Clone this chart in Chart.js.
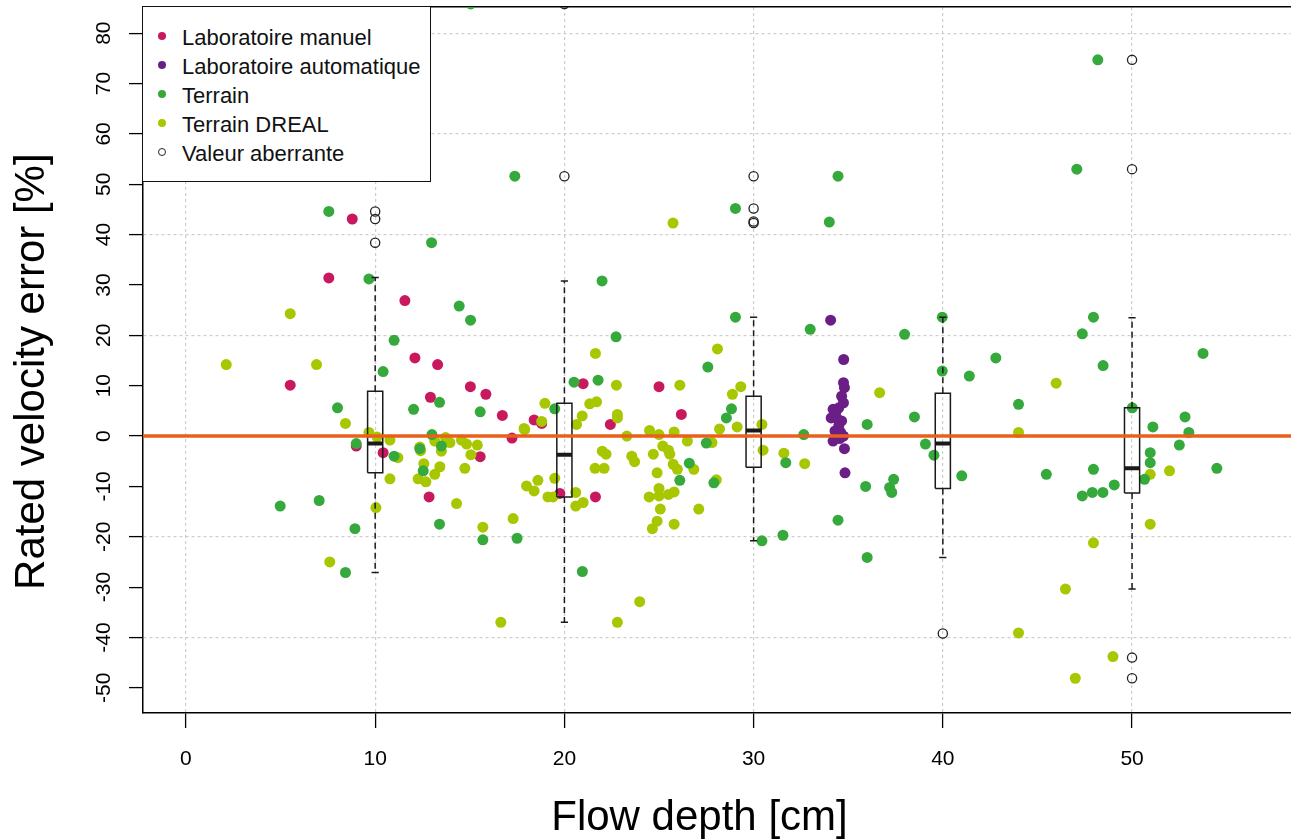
<!DOCTYPE html>
<html>
<head>
<meta charset="utf-8">
<script src="https://cdn.jsdelivr.net/npm/chart.js@4/dist/chart.umd.min.js"></script>
<style>
  html, body { margin: 0; padding: 0; background: #fff; }
  #wrap { position: relative; width: 1291px; height: 839px; }
  #legend {
    position: absolute; left: 142px; top: 6px; width: 289px; height: 176px;
    box-sizing: border-box; border: 1.5px solid #111; background: #fff;
    font-family: 'Liberation Sans', Arial, sans-serif; font-size: 22px; color: #111;
  }
  .row { position: absolute; left: 0; height: 29px; line-height: 29px; white-space: nowrap; }
  .dot { position: absolute; left: 15px; top: 9px; width: 8px; height: 8px; border-radius: 50%; box-sizing: border-box; }
  .lbl { position: absolute; left: 39px; top: 0; }
</style>
</head>
<body>
<div id="wrap">
  <canvas id="chart" width="1291" height="839"></canvas>
  <div id="legend"></div>
</div>
<script>
const FONT = "'Liberation Sans', Arial, sans-serif";

// axis ranges
const xMin = -2.27, xMax = 58.4;
const yMin = -55, yMax = 85.2;

// series: Laboratoire manuel
const manuelX = [8.79, 7.55, 11.57, 12.10, 13.30, 5.51, 12.92, 9.00, 10.42, 12.85, 15.03, 15.85,
  16.72, 17.23, 15.55, 18.40, 18.80, 20.99, 22.43, 25.00, 26.18, 19.76, 21.64];
const manuelY = [43.1, 31.4, 26.9, 15.5, 14.2, 10.1, 7.7, -2.0, -3.3, -12.1, 9.8, 8.3,
  4.1, -0.4, -4.1, 3.2, 2.5, 10.4, 2.3, 9.8, 4.3, -11.4, -12.1];

// series: Laboratoire automatique
const autoX = [34.07, 34.76, 34.75, 34.80, 34.65, 34.75, 34.50, 34.20, 34.35, 34.10, 34.40, 34.65,
  34.50, 34.30, 34.60, 34.75, 34.20, 34.55, 34.80, 34.83];
const autoY = [23.0, 15.2, 10.6, 9.6, 7.9, 6.6, 5.6, 5.3, 4.8, 3.6, 3.5, 3.0,
  2.0, 1.0, 0.7, 0.0, -1.0, -0.5, -2.5, -7.3];

// series: Terrain
const terrainX = [7.55, 12.98, 9.67, 11.00, 10.42, 13.40, 8.01, 12.03, 13.00, 12.36, 12.54, 9.00,
  11.00, 13.40, 4.98, 7.04, 8.93, 8.43, 13.50, 15.69, 17.50, 17.38, 14.44, 15.04, 21.99, 22.73,
  27.58, 15.55, 19.49, 20.51, 21.78, 27.50, 20.95, 26.60, 26.10, 27.90, 29.04, 29.04, 34.46, 34.00,
  32.99, 37.98, 28.83, 28.56, 32.65, 36.00, 38.50, 39.08, 39.97, 39.97, 41.40, 42.80, 31.70, 39.53,
  41.00, 35.92, 37.19, 37.40, 37.30, 34.46, 36.00, 30.44, 31.55, 48.19, 47.08, 47.96, 47.37, 48.47,
  53.75, 44.00, 50.01, 51.10, 52.80, 53.00, 52.50, 50.96, 50.96, 50.66, 54.48, 45.47, 47.96, 47.37,
  47.90, 48.46, 49.06, 15.05];
const terrainY = [44.6, 38.4, 31.2, 19.0, 12.8, 6.7, 5.6, 5.3, 0.3, -2.5, -6.9, -1.5,
  -4.0, -17.5, -13.9, -12.8, -18.4, -27.1, -2.0, -20.6, -20.3, 51.6, 25.8, 23.0, 30.8, 19.7,
  13.7, 4.8, 5.4, 10.7, 11.1, -1.4, -26.9, -5.4, -8.8, -9.3, 45.2, 23.6, 51.6, 42.5,
  21.2, 20.2, 5.4, 3.6, 0.3, 2.3, 3.8, -1.6, 23.6, 12.9, 11.9, 15.5, -5.3, -3.8,
  -7.9, -10.0, -10.2, -8.6, -11.2, -16.7, -24.1, -20.8, -19.7, 74.7, 53.0, 23.6, 20.3, 14.0,
  16.4, 6.3, 5.6, 1.8, 3.8, 0.7, -1.8, -3.3, -5.3, -8.6, -6.4, -7.6, -6.6, -11.9,
  -11.2, -11.2, -9.7, 85.8];

// series: Terrain DREAL
const drealX = [2.13, 5.51, 6.90, 8.43, 9.67, 10.10, 10.78, 11.20, 10.78, 10.04, 7.60, 13.15,
  12.36, 12.40, 12.57, 12.27, 12.68, 13.15, 13.42, 13.72, 13.95, 13.50, 14.56, 14.83, 15.40, 15.06,
  14.74, 14.30, 15.69, 17.29, 17.90, 18.00, 25.74, 21.64, 28.09, 18.80, 17.87, 18.97, 21.34, 21.70,
  20.94, 20.64, 22.75, 22.80, 22.80, 26.10, 24.50, 25.00, 25.80, 23.30, 26.50, 27.80, 28.20, 16.64,
  18.40, 18.60, 19.13, 19.49, 19.40, 20.60, 20.60, 20.99, 21.62, 22.10, 22.00, 22.20, 23.56, 23.71,
  24.70, 25.20, 25.50, 25.57, 24.90, 25.00, 25.00, 24.48, 25.50, 25.80, 25.07, 24.90, 24.65, 25.80,
  25.75, 25.97, 26.84, 27.10, 28.03, 23.98, 22.80, 29.32, 28.88, 29.13, 30.44, 30.50, 31.60, 32.70,
  36.66, 45.99, 44.00, 50.96, 51.98, 50.96, 47.96, 46.48, 44.00, 48.99, 47.00];
const drealY = [14.2, 24.3, 14.2, 2.5, 0.7, -0.2, -0.8, -4.3, -8.5, -14.2, -25.0, -1.0,
  -2.2, -2.9, -5.5, -8.5, -9.1, -7.6, -6.1, -0.3, -1.3, -3.0, -0.8, -1.6, -1.8, -3.7,
  -6.4, -13.4, -18.1, -16.4, 1.3, -9.9, 42.3, 16.4, 17.3, 2.9, 1.5, 6.5, 6.4, 6.8,
  4.0, 2.3, 10.1, 4.3, 3.6, 10.1, 1.1, 0.3, 0.8, 0.0, -1.0, -1.3, 1.4, -37.0,
  -10.9, -8.8, -12.1, -8.4, -12.1, -11.2, -13.9, -13.2, -6.4, -6.4, -3.0, -3.6, -4.0, -5.1,
  -3.6, -2.0, -2.8, -3.6, -7.3, -10.4, -11.9, -12.1, -11.6, -11.1, -14.5, -16.9, -18.4, -17.5,
  -5.6, -6.6, -6.6, -14.5, -8.7, -32.9, -37.0, 9.8, 8.3, 1.8, 2.3, -2.8, -3.4, -5.5,
  8.6, 10.5, 0.7, -7.6, -6.9, -17.5, -21.2, -30.4, -39.1, -43.8, -48.1];

// boxplots by flow depth class
const boxX = [10, 20, 30, 40, 50];
const boxLow = [-27.1, -37.0, -20.8, -24.1, -30.4];
const boxQ1 = [-7.3, -12.1, -6.2, -10.4, -11.3];
const boxMed = [-1.5, -3.7, 1.1, -1.5, -6.4];
const boxQ3 = [8.9, 6.5, 7.9, 8.5, 5.6];
const boxHigh = [31.5, 30.8, 23.6, 23.6, 23.5];

// outliers (Valeur aberrante)
const outX = [10, 10, 10, 20, 20, 30, 30, 30, 30, 40, 50, 50, 50, 50];
const outY = [44.6, 43.1, 38.4, 51.6, 85.8, 51.6, 45.2, 42.6, 42.3, -39.2, 74.7, 53.0, -44.0, -48.1];

const legendNames = ['Laboratoire manuel', 'Laboratoire automatique', 'Terrain', 'Terrain DREAL', 'Valeur aberrante'];
const colors = ['#C8195E', '#6B1F86', '#35A93B', '#A9C700'];

const HALF_BOX = 0.4;
const HALF_CAP = 0.19;
const GRID = '#cdcdcd';

function toPts(xs, ys) {
  return xs.map((x, i) => ({ x, y: ys[i] }));
}

// join several polylines into one dataset, separated by gaps
function joinSegs(segs) {
  const out = [];
  segs.forEach((s) => {
    s.forEach((p) => out.push(p));
    out.push({ x: s[0].x, y: null });
  });
  return out;
}

const boxSegs = joinSegs(boxX.map((c, i) => [
  { x: c - HALF_BOX, y: boxQ1[i] }, { x: c - HALF_BOX, y: boxQ3[i] },
  { x: c + HALF_BOX, y: boxQ3[i] }, { x: c + HALF_BOX, y: boxQ1[i] },
  { x: c - HALF_BOX, y: boxQ1[i] },
]));
const medSegs = joinSegs(boxX.map((c, i) => [
  { x: c - HALF_BOX, y: boxMed[i] }, { x: c + HALF_BOX, y: boxMed[i] },
]));
const whiskerSegs = joinSegs(boxX.flatMap((c, i) => [
  [{ x: c, y: boxQ3[i] }, { x: c, y: boxHigh[i] }],
  [{ x: c, y: boxQ1[i] }, { x: c, y: boxLow[i] }],
]));
const capSegs = joinSegs(boxX.flatMap((c, i) => [
  [{ x: c - HALF_CAP, y: boxHigh[i] }, { x: c + HALF_CAP, y: boxHigh[i] }],
  [{ x: c - HALF_CAP, y: boxLow[i] }, { x: c + HALF_CAP, y: boxLow[i] }],
]));

const lineDs = (data, opts) => Object.assign({
  type: 'line', data, pointRadius: 0, pointHoverRadius: 0, tension: 0,
  spanGaps: false, fill: false, borderColor: '#1a1a1a', borderWidth: 1.5,
}, opts);

const pointDs = (label, xs, ys, color, order) => ({
  label, data: toPts(xs, ys), backgroundColor: color, borderWidth: 0,
  pointRadius: 5.5, pointHoverRadius: 5.5, order,
});

// keep the plot box where the reference has it: no extra padding from tick labels
const noPad = (s) => { s.paddingTop = 0; s.paddingBottom = 0; s.paddingLeft = 0; s.paddingRight = 0; };

new Chart(document.getElementById('chart'), {
  type: 'scatter',
  data: {
    datasets: [
      pointDs(legendNames[0], manuelX, manuelY, colors[0], 6),
      pointDs(legendNames[3], drealX, drealY, colors[3], 5),
      pointDs(legendNames[2], terrainX, terrainY, colors[2], 4),
      pointDs(legendNames[1], autoX, autoY, colors[1], 3),
      lineDs(boxSegs, { order: 2 }),
      lineDs(medSegs, { order: 2, borderWidth: 4, borderCapStyle: 'butt' }),
      lineDs(whiskerSegs, { order: 2, borderDash: [6, 4] }),
      lineDs(capSegs, { order: 2 }),
      {
        label: legendNames[4], data: toPts(outX, outY), pointRadius: 4.6, pointHoverRadius: 4.6,
        backgroundColor: 'rgba(0,0,0,0)', borderColor: '#222', borderWidth: 1.3, order: 1,
      },
      lineDs([{ x: xMin, y: 0 }, { x: xMax, y: 0 }], { borderColor: '#E8601C', borderWidth: 3.5, order: 0 }),
    ],
  },
  options: {
    responsive: false,
    animation: false,
    events: [],
    layout: { autoPadding: false, padding: { top: 7, right: 0, bottom: 0, left: 0 } },
    plugins: { legend: { display: false }, tooltip: { enabled: false } },
    scales: {
      x: {
        type: 'linear', position: 'bottom', min: xMin, max: xMax,
        ticks: { stepSize: 10, includeBounds: false, maxRotation: 0, padding: 19, color: '#000', font: { family: FONT, size: 21 } },
        grid: { color: GRID, lineWidth: 1.2, tickLength: 15, tickColor: '#000', tickWidth: 1.3, tickBorderDash: [] },
        border: { display: true, color: '#000', width: 1.5, dash: [3, 3] },
        title: {
          display: true, text: 'Flow depth [cm]\u00a0\u00a0\u00a0', color: '#000',
          font: { family: FONT, size: 42, lineHeight: 1.0 }, padding: { top: 0, bottom: 0 },
        },
        afterFit(s) { s.height = 126; noPad(s); },
      },
      xTop: {
        type: 'linear', position: 'top', min: xMin, max: xMax,
        ticks: { display: false }, grid: { display: false, drawTicks: false },
        border: { display: true, color: '#000', width: 1.5 },
        afterFit(s) { s.height = 0; noPad(s); },
      },
      y: {
        type: 'linear', min: yMin, max: yMax,
        ticks: {
          stepSize: 10, includeBounds: false, minRotation: 90, maxRotation: 90, crossAlign: 'center',
          padding: 10, color: '#000', font: { family: FONT, size: 21 },
        },
        grid: {
          color: (ctx) => (ctx.tick && ctx.tick.value % 20 === 0 ? GRID : 'rgba(0,0,0,0)'),
          lineWidth: 1.2, tickLength: 14, tickColor: '#000', tickWidth: 1.3, tickBorderDash: [],
        },
        border: { display: true, color: '#000', width: 1.5, dash: [3, 3] },
        title: {
          display: true, text: 'Rated velocity error [%]\u00a0\u00a0', color: '#000',
          font: { family: FONT, size: 42 }, padding: { top: 7, bottom: 0 },
        },
        afterFit(s) { s.width = 143; noPad(s); },
      },
    },
  },
});

// legend box, drawn as html over the plot corner
const legend = document.getElementById('legend');
legendNames.forEach((name, i) => {
  const row = document.createElement('div');
  row.className = 'row';
  row.style.top = (16 + i * 29) + 'px';
  const dot = document.createElement('span');
  dot.className = 'dot';
  if (i < 4) {
    dot.style.background = colors[i];
  } else {
    dot.style.border = '1.3px solid #222';
  }
  const lbl = document.createElement('span');
  lbl.className = 'lbl';
  lbl.textContent = name;
  row.appendChild(dot);
  row.appendChild(lbl);
  legend.appendChild(row);
});
</script>
</body>
</html>
